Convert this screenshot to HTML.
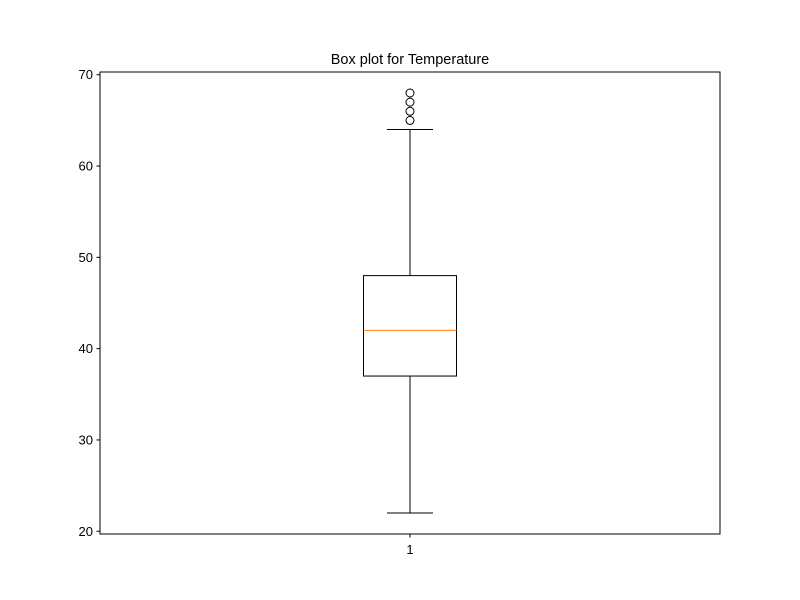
<!DOCTYPE html>
<html><head><meta charset="utf-8"><style>body{margin:0;background:#fff}svg{display:block;font-family:"Liberation Sans","DejaVu Sans",sans-serif}</style></head>
<body>
<svg id="chart" width="800" height="600">
<rect x="0" y="0" width="800" height="600" fill="#fff"/>
<text x="410" y="64" text-anchor="middle" font-size="14.5">Box plot for Temperature</text>
<g id="plot"></g>
<rect x="100" y="72" width="620" height="462" fill="none" stroke="#000" stroke-width="1"/>
</svg>
<script>
const categories = ["1"];
const whiskerLow = [22];
const q1 = [37];
const median = [42];
const q3 = [48];
const whiskerHigh = [64];
const fliers = [[65, 66, 67, 68]];
const yTicks = [20, 30, 40, 50, 60, 70];

const yMin = 19.7, yMax = 70.3, pTop = 72, pBottom = 534, pLeft = 100, pRight = 720;
const yS = v => pBottom - (v - yMin) / (yMax - yMin) * (pBottom - pTop);
const xS = i => pLeft + (i + 0.5) * (pRight - pLeft) / categories.length;
const g = document.getElementById('plot');
const NS = 'http://www.w3.org/2000/svg';
function mk(tag, attrs) { const e = document.createElementNS(NS, tag); for (const k in attrs) e.setAttribute(k, attrs[k]); g.appendChild(e); return e; }

yTicks.forEach(t => {
  const l = mk('line', {x1: pLeft - 3.5, x2: pLeft, y1: yS(t), y2: yS(t), stroke: '#000'});
  
  
  const tx = mk('text', {x: pLeft - 7, y: yS(t) + 4.5, 'text-anchor': 'end', 'font-size': '13'});
  tx.textContent = t;
  
  
});

categories.forEach((c, i) => {
  const cx = xS(i), hw = 46.5, cw = 23;
  const tk = mk('line', {x1: cx, x2: cx, y1: pBottom, y2: pBottom + 3.5, stroke: '#000'});
  
  
  const tl = mk('text', {x: cx, y: pBottom + 20, 'text-anchor': 'middle', 'font-size': '13'});
  tl.textContent = c;
  
  
  const w1 = mk('line', {x1: cx, x2: cx, y1: yS(whiskerLow[i]), y2: yS(q1[i]), stroke: '#000'});
  
  
  const w2 = mk('line', {x1: cx, x2: cx, y1: yS(q3[i]), y2: yS(whiskerHigh[i]), stroke: '#000'});
  
  
  const c1 = mk('line', {x1: cx - cw, x2: cx + cw, y1: yS(whiskerLow[i]), y2: yS(whiskerLow[i]), stroke: '#000'});
  
  
  const c2 = mk('line', {x1: cx - cw, x2: cx + cw, y1: yS(whiskerHigh[i]), y2: yS(whiskerHigh[i]), stroke: '#000'});
  
  
  const b = mk('rect', {x: cx - hw, y: yS(q3[i]), width: 2 * hw, height: yS(q1[i]) - yS(q3[i]), fill: 'none', stroke: '#000'});
  
  
  const m = mk('line', {x1: cx - hw, x2: cx + hw, y1: yS(median[i]), y2: yS(median[i]), stroke: '#ff7f0e'});
  
  
  fliers[i].forEach(v => {
    const f = mk('circle', {cx: cx, cy: yS(v), r: 4, fill: 'none', stroke: '#000'});
    
    
  });
});
</script>
</body></html>
